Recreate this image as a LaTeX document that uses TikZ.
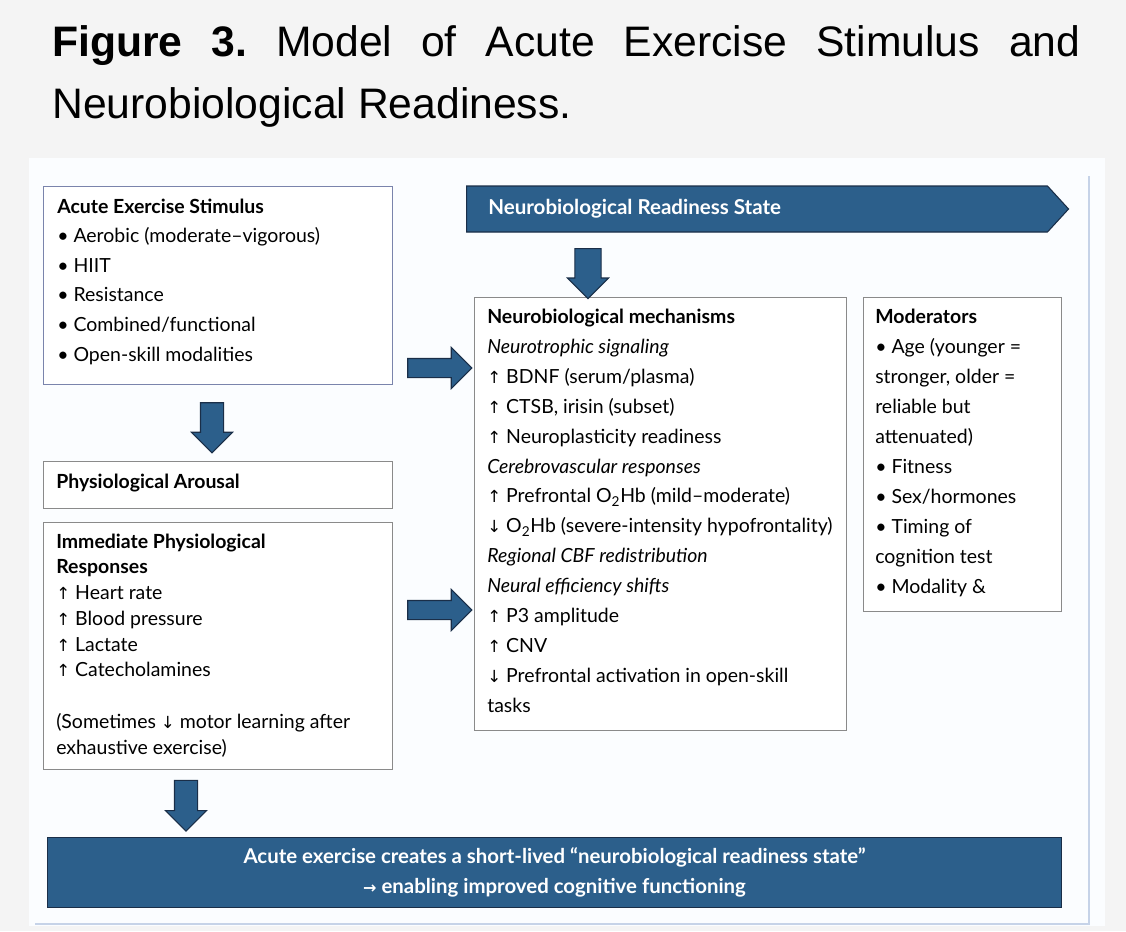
\documentclass[tikz,border=0pt]{standalone}
\usepackage{fontspec}
\setmainfont{Lato}
\newfontfamily\captionfont{Liberation Sans}
\newfontfamily\symbolfont{DejaVu Sans}
\usetikzlibrary{shapes.arrows}
\usetikzlibrary{shapes.symbols}

\definecolor{pagegray}{RGB}{244,244,244}
\definecolor{panelwhite}{RGB}{251,253,255}
\definecolor{framelight}{RGB}{198,211,232}
\definecolor{boxgray}{RGB}{138,138,138}
\definecolor{boxblue}{RGB}{122,132,172}
\definecolor{steelblue}{RGB}{44,95,139}
\definecolor{navyline}{RGB}{26,46,72}

\newcommand{\upmark}{{\symbolfont\fontsize{12.5}{12}\selectfont ↑}}
\newcommand{\downmark}{{\symbolfont\fontsize{12.5}{12}\selectfont ↓}}
\newcommand{\thenmark}{{\symbolfont\fontsize{12}{12}\selectfont →}}

\tikzset{
  panelbox/.style={draw=boxgray, line width=0.9pt, fill=white, anchor=north west, inner sep=0pt},
  boxtext/.style={anchor=base west, inner sep=0pt, align=left},
  blockarrow/.style={single arrow, draw=navyline, fill=steelblue, line width=0.8pt, inner xsep=0pt, minimum width=30pt},
}

\begin{document}
\begin{tikzpicture}[x=0.75pt,y=0.75pt,yscale=-1,xscale=1]
%Background
\fill [pagegray] (0,0) rectangle (1126,931);
\useasboundingbox (0,0) rectangle (1126,931);
%Shape: Rectangle [panel]
\fill [panelwhite] (29,158) rectangle (1105,926);
%Straight Lines [frame]
\draw [framelight, line width=0.9pt] (1089,176) -- (1089,924) -- (35,924);

% Text Node
\node [anchor=base west, inner sep=0pt, text width=771pt, align=justify, font=\captionfont\fontsize{32}{45.75}\selectfont\frenchspacing] (caption) at (52,57) {\textbf{Figure 3.} Model of Acute Exercise Stimulus and\linebreak Neurobiological Readiness.};

%Shape: Rectangle
\node [panelbox, draw=boxblue, minimum width=261.75pt, minimum height=148.5pt] (stim) at (43,186) {};
%Shape: Rectangle
\node [panelbox, minimum width=261.75pt, minimum height=35.25pt] (arousal) at (43,461) {};
%Shape: Rectangle
\node [panelbox, minimum width=261.75pt, minimum height=185.25pt] (immed) at (43,522) {};
%Shape: Rectangle
\node [panelbox, minimum width=279pt, minimum height=324.75pt] (mech) at (474,297) {};
%Shape: Rectangle
\node [panelbox, minimum width=148.5pt, minimum height=235.5pt] (moder) at (863,297) {};
%Shape: Signal
\node [signal, signal to=east, signal pointer angle=95, draw=navyline, fill=steelblue, line width=0.8pt, inner sep=0pt, anchor=west, minimum width=451.5pt, minimum height=34.5pt] (state) at (466,209) {};
%Shape: Rectangle
\node [draw=navyline, fill=steelblue, line width=0.8pt, anchor=north west, inner sep=0pt, minimum width=760.5pt, minimum height=52.5pt] (result) at (47,837) {};

%Block Arrows
\node [blockarrow, inner ysep=8.25pt, single arrow head extend=6.75pt, rotate=-90, minimum height=37.5pt] (stimdown) at (212,422) {};
\node [blockarrow, inner ysep=6.75pt, single arrow head extend=8.25pt, minimum height=48pt] (stimright) at (435,368) {};
\node [blockarrow, inner ysep=6.75pt, single arrow head extend=8.25pt, minimum height=48pt] (immedright) at (435,610) {};
\node [blockarrow, inner ysep=9.4pt, single arrow head extend=5.6pt, rotate=-90, minimum height=37.5pt] (statedown) at (588,267) {};
\node [blockarrow, inner ysep=8.25pt, single arrow head extend=6.75pt, rotate=-90, minimum height=38pt] (immeddown) at (186,800) {};

% Text Node
\node [anchor=base west, inner sep=0pt, text=white, font=\bfseries\fontsize{15.4}{18}\selectfont] (statetext) at (488,214) {Neurobiological Readiness State};
% Text Node
\node [boxtext, font=\fontsize{14.6}{22.2}\selectfont] (stimtext) at (57,361) {\textbf{Acute Exercise Stimulus}\\• Aerobic (moderate–vigorous)\\• HIIT\\• Resistance\\• Combined/functional\\• Open-skill modalities};
% Text Node
\node [boxtext, font=\fontsize{14.6}{22.2}\selectfont] (arousaltext) at (56,488) {\textbf{Physiological Arousal}};
% Text Node
\node [boxtext, font=\fontsize{14.6}{19.3}\selectfont] (immedtext) at (56,754) {\textbf{Immediate Physiological}\\\textbf{Responses}\\\upmark\ Heart rate\\\upmark\ Blood pressure\\\upmark\ Lactate\\\upmark\ Catecholamines\\[19.3pt](Sometimes \downmark\ motor learning after\\exhaustive exercise)};
% Text Node
\node [boxtext, font=\fontsize{14.6}{22.4}\selectfont] (mechtext) at (487,712) {\textbf{Neurobiological mechanisms}\\\textit{Neurotrophic signaling}\\\upmark\ BDNF (serum/plasma)\\\upmark\ CTSB, irisin (subset)\\\upmark\ Neuroplasticity readiness\\\textit{Cerebrovascular responses}\\\upmark\ Prefrontal O\textsubscript{2}Hb (mild–moderate)\\\downmark\ O\textsubscript{2}Hb (severe-intensity hypofrontality)\\\textit{Regional CBF redistribution}\\\textit{Neural efficiency shifts}\\\upmark\ P3 amplitude\\\upmark\ CNV\\\downmark\ Prefrontal activation in open-skill\\tasks};
% Text Node
\node [boxtext, font=\fontsize{14.6}{22.5}\selectfont] (modertext) at (875,593) {\textbf{Moderators}\\• Age (younger =\\stronger, older =\\reliable but\\attenuated)\\• Fitness\\• Sex/hormones\\• Timing of\\cognition test\\• Modality \&};
% Text Node
\node [align=center, inner sep=0pt, text=white, font=\bfseries\fontsize{15.3}{22.5}\selectfont] (resulttext) at (result.center) {Acute exercise creates a short-lived “neurobiological readiness state”\\\thenmark\ enabling improved cognitive functioning};
\end{tikzpicture}
\end{document}
